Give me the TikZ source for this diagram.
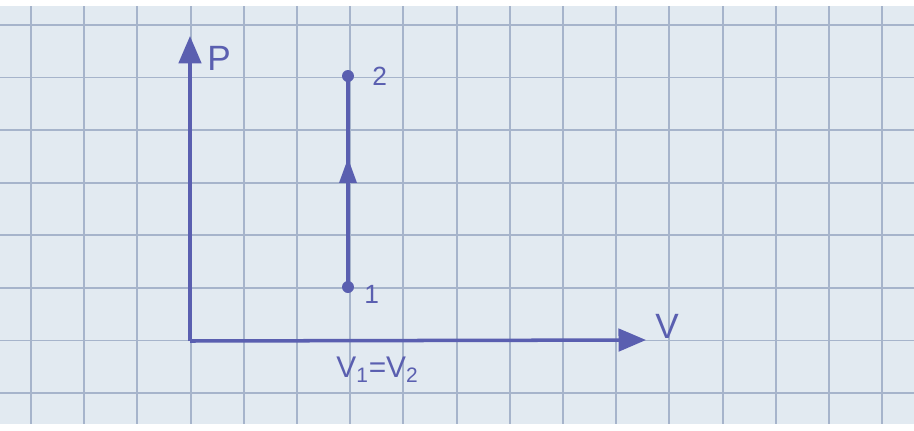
\documentclass[tikz,border=0pt]{standalone}
\usepackage{fontspec}
\setmainfont{Liberation Sans}
\usetikzlibrary{arrows.meta}
\definecolor{paper}{HTML}{E2EAF1}
\definecolor{gridc}{HTML}{A6B4CB}
\definecolor{ink}{HTML}{5A5FB0}
\tikzset{
  gridline/.style={gridc, line width=1.1pt},
  axisline/.style={ink, line width=2pt},
  bigtip/.style={-{Triangle[length=0.55cm,width=0.45cm]}},
  midtip/.style={-{Triangle[length=0.5cm,width=0.34cm]}},
  statedot/.style={circle, fill=ink, inner sep=0pt, minimum size=0.24cm},
  handlbl/.style={text=ink, inner sep=0pt, font=\fontsize{20}{22}\selectfont},
  smalllbl/.style={text=ink, inner sep=0pt, font=\fontsize{15}{17}\selectfont},
  eqlbl/.style={text=ink, inner sep=0pt, font=\fontsize{17}{19}\selectfont}
}
\begin{document}
\begin{tikzpicture}[x=0.02cm, y=-0.02cm]
\useasboundingbox (0,0) rectangle (914,430);
\fill[white] (0,0) rectangle (914,430);
\fill[paper] (0,6) rectangle (914,424);
% grid
\foreach \i in {0,...,16} {
  \draw[gridline] ({31+53.2*\i},6) -- ({31+53.2*\i},424);
}
\foreach \k in {-1,0,...,6} {
  \draw[gridline] (0,{340.5-52.6*\k}) -- (914,{340.5-52.6*\k});
}
% axes
\coordinate (O) at (190,341);
\coordinate (ptop) at (190,36);
\coordinate (vend) at (646,340);
\draw[axisline, bigtip] (O) -- (ptop);
\draw[axisline, bigtip] (O) -- (vend);
\node[handlbl, anchor=west] (plbl) at (207,58) {P};
\node[handlbl, anchor=west] (vlbl) at (655,326) {V};
% process
\node[statedot] (s1) at (348,287) {};
\node[statedot] (s2) at (348,76) {};
\coordinate (mid) at (348,158);
\coordinate (midbase) at (348,200);
\draw[axisline] (s1.center) -- (s2.center);
\draw[axisline, midtip] (midbase) -- (mid);
\node[smalllbl, anchor=west] (l2) at (372,76) {2};
\node[smalllbl, anchor=west] (l1) at (364,294) {1};
\node[eqlbl, anchor=north west] (vv) at (336,357) {V\textsubscript{1}=V\textsubscript{2}};
\end{tikzpicture}
\end{document}
